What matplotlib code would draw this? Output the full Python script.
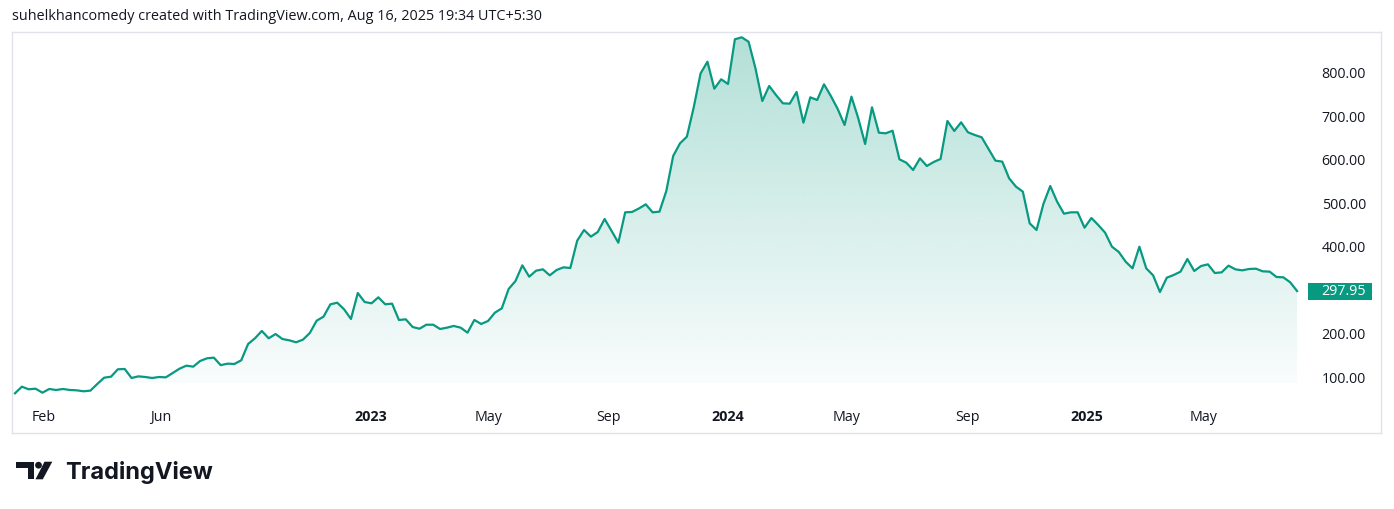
import numpy as np
import pandas as pd
import matplotlib
matplotlib.use("Agg")
import matplotlib.pyplot as plt
import matplotlib.dates as mdates
import matplotlib.transforms as mtransforms
from matplotlib.patches import Polygon, Ellipse, Rectangle

# weekly closes
close = [
    62.5, 77.7, 71.7, 73.1, 63.9, 72.4, 70.1, 72.4, 70.1, 69.3,
    67.1, 68.6, 83.9, 98.4, 100.7, 117.7, 118.5, 97.7, 101.5, 100.0,
    97.7, 100.0, 99.2, 109.2, 119.2, 126.1, 123.8, 136.9, 143.0, 144.6,
    127.3, 130.7, 130.0, 138.5, 176.0, 189.1, 206.0, 189.1, 199.0, 187.5,
    184.5, 179.9, 186.0, 201.3, 229.7, 238.9, 267.4, 271.1, 255.9, 233.6,
    293.4, 272.7, 269.7, 283.5, 267.4, 268.9, 231.3, 232.8, 215.1, 211.2,
    220.4, 220.4, 210.5, 213.6, 217.5, 213.6, 202.1, 231.3, 222.1, 229.0,
    248.2, 258.1, 302.6, 321.1, 357.1, 331.0, 344.8, 347.9, 334.1, 346.4,
    352.5, 351.0, 413.9, 438.5, 423.2, 433.9, 463.8, 436.9, 409.3, 479.2,
    480.0, 488.0, 497.6, 479.2, 480.7, 528.3, 608.9, 638.1, 653.4, 721.0,
    799.2, 826.0, 763.9, 785.5, 774.7, 877.6, 882.2, 872.0, 810.8, 735.5,
    770.1, 749.3, 730.2, 729.4, 756.3, 685.6, 744.0, 737.8, 774.0, 747.0,
    717.1, 680.3, 745.5, 695.6, 636.5, 721.0, 662.6, 661.1, 667.1, 601.2,
    593.5, 576.7, 603.5, 585.9, 595.1, 602.0, 689.5, 666.5, 686.4, 663.4,
    657.2, 651.9, 625.0, 598.2, 595.9, 557.5, 538.3, 526.8, 453.8, 438.5,
    498.4, 539.8, 503.7, 476.0, 479.2, 479.2, 443.8, 466.1, 450.0, 432.3,
    400.1, 387.8, 365.5, 350.2, 400.1, 350.2, 334.1, 295.7, 328.7, 334.9,
    342.6, 371.7, 344.1, 355.6, 359.4, 339.5, 341.0, 356.4, 347.9, 345.6,
    348.7, 349.4, 343.3, 342.6, 330.3, 329.5, 318.0, 297.95,
]
dates = pd.date_range("2022-01-03", periods=len(close), freq="W-MON")

# 300.00 is hidden behind the last-price tag in the reference
price_ticks = [100, 200, 400, 500, 600, 700, 800]
time_ticks = ["2022-02-01", "2022-06-01", "2023-01-01", "2023-05-01", "2023-09-01",
              "2024-01-01", "2024-05-01", "2024-09-01", "2025-01-01", "2025-05-01"]
time_labels = ["Feb", "Jun", "2023", "May", "Sep", "2024", "May", "Sep", "2025", "May"]

header = "suhelkhancomedy created with TradingView.com, Aug 16, 2025 19:34 UTC+5:30"
green = "#089981"
txt_col = "#131722"
plt.rcParams["font.family"] = ["Open Sans", "DejaVu Sans"]

W, H = 1394, 509
fig = plt.figure(figsize=(W / 100, H / 100), dpi=100)
fig.patch.set_facecolor("white")

# chart pane, in pixels: left 12, right 1381, top 32, bottom 433
L, R, T, B = 12, 1381, 32, 433
ax = fig.add_axes([L / W, 1 - B / H, (R - L) / W, (B - T) / H])

x = mdates.date2num(dates)
px_per_day = 6.856 / 7
ax.set_xlim(x[0] - (15 - L) / px_per_day, x[0] + (R - 15) / px_per_day)
# 800 at y=73, 100 at y=377
ppu = (377 - 73) / 700
ax.set_ylim(800 - (B - 73) / ppu, 800 + (73 - T) / ppu)

# gradient area under the line
ymin = ax.get_ylim()[0]
verts = list(zip(x, close)) + [(x[-1], ymin), (x[0], ymin)]
poly = Polygon(verts, closed=True, facecolor="none", edgecolor="none")
ax.add_patch(poly)
n = 256
grad = np.zeros((n, 1, 4))
grad[..., :3] = matplotlib.colors.to_rgb(green)
grad[:, 0, 3] = np.linspace(0.31, 0.025, n)
fill_bottom = 800 - (383 - 73) / ppu
im = ax.imshow(grad, extent=[x[0], x[-1], fill_bottom, max(close)],
               aspect="auto", origin="upper", zorder=1, interpolation="bilinear")
im.set_clip_path(poly)

ax.plot(x, close, color=green, lw=1.6, zorder=3)

# price scale (inside the pane, right side)
ax.yaxis.tick_right()
ax.set_yticks(price_ticks)
ax.set_yticklabels(["%.2f" % v for v in price_ticks])
ax.tick_params(axis="y", length=0, pad=-(R - 1366) * 0.72, labelsize=10.3,
               labelcolor=txt_col)
for lbl in ax.get_yticklabels():
    lbl.set_horizontalalignment("right")

# time scale
ax.set_xticks(mdates.date2num(pd.to_datetime(time_ticks)))
ax.set_xticklabels(time_labels)
ax.tick_params(axis="x", length=0, pad=-(B - 421) * 0.72, labelsize=10.3,
               labelcolor=txt_col)
for lbl in ax.get_xticklabels():
    lbl.set_verticalalignment("baseline")
    if lbl.get_text().isdigit():
        lbl.set_fontweight("bold")

for s in ax.spines.values():
    s.set_color("#e0e3eb")
    s.set_linewidth(1)

# last price tag
trans = mtransforms.blended_transform_factory(ax.transAxes, ax.transData)
ax.add_patch(Rectangle(((1308 - L) / (R - L), close[-1] - 8.5 / ppu),
                       64 / (R - L), 17 / ppu, transform=trans,
                       fc=green, ec="none", zorder=4))
ax.text((1366 - L) / (R - L), close[-1], "%.2f" % close[-1], transform=trans,
        ha="right", va="center", color="white", fontsize=10.3, zorder=5)

fig.text(L / W, 1 - 17 / H, header, ha="left", va="center", fontsize=10.4,
         color=txt_col)

# TradingView logo
def fx(px):
    return px / W

def fy(py):
    return 1 - py / H

logo_col = "#131722"
fig.add_artist(Polygon([(fx(15.7), fy(461.7)), (fx(34.3), fy(461.7)), (fx(34.3), fy(479.3)),
                        (fx(27.7), fy(479.3)), (fx(27.7), fy(468.3)), (fx(15.7), fy(468.3))],
                       closed=True, transform=fig.transFigure, fc=logo_col, ec="none"))
fig.add_artist(Ellipse((fx(38.5), fy(465.2)), 6.8 / W, 6.8 / H, transform=fig.transFigure,
                       fc=logo_col, ec="none"))
fig.add_artist(Polygon([(fx(44.5), fy(461.7)), (fx(52.3), fy(461.7)), (fx(42.8), fy(479.3)),
                        (fx(35.5), fy(479.3))],
                       closed=True, transform=fig.transFigure, fc=logo_col, ec="none"))
fig.text(fx(65.5), fy(479.3), "TradingView", ha="left", va="baseline", fontsize=17,
         fontweight="bold", family=["Inter", "DejaVu Sans"], color=logo_col)

fig.savefig("out.png", dpi=100, facecolor="white")
